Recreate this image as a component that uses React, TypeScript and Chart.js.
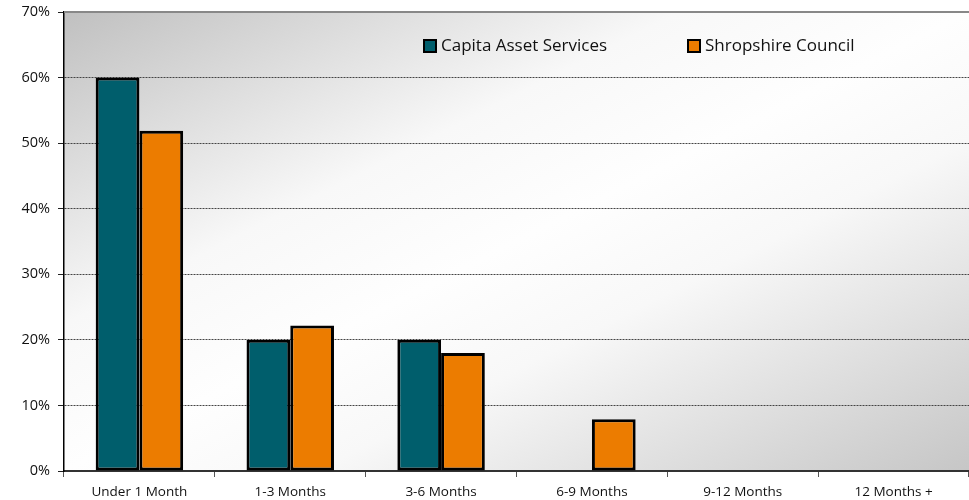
import { useEffect, useRef } from "react";
import { Chart, ChartConfiguration, registerables } from "chart.js";

Chart.register(...registerables);

const categories = ["Under 1 Month", "1-3 Months", "3-6 Months", "6-9 Months", "9-12 Months", "12 Months +"];
const capitaValues = [60, 20, 20, 0, 0, 0];
const shropshireValues = [51.9, 22.2, 18.0, 7.9, 0, 0];
const seriesNames = ["Capita Asset Services", "Shropshire Council"];
const seriesColors = ["#005e6c", "#ec7c00"];

const FONT = "'Open Sans', 'Noto Sans', sans-serif";

export default function App() {
  const chartRef = useRef<HTMLCanvasElement>(null);
  const chartInstance = useRef<Chart | null>(null);

  useEffect(() => {
    document.body.style.margin = "0";
    if (!chartRef.current) return;

    if (chartInstance.current) {
      chartInstance.current.destroy();
    }

    const config: ChartConfiguration = {
      type: "bar",
      data: {
        labels: categories,
        datasets: [
          {
            label: seriesNames[0],
            data: capitaValues,
            backgroundColor: seriesColors[0],
            borderColor: "#000",
            borderWidth: 3,
            borderSkipped: false,
          },
          {
            label: seriesNames[1],
            data: shropshireValues,
            backgroundColor: seriesColors[1],
            borderColor: "#000",
            borderWidth: 3,
            borderSkipped: false,
          },
        ],
      },
      options: {
        responsive: true,
        maintainAspectRatio: false,
        animation: false,
        layout: { padding: { top: 12, right: 0, left: 0, bottom: 0 } },
        datasets: {
          bar: { categoryPercentage: 0.58, barPercentage: 1 },
        },
        plugins: {
          legend: { display: false },
          tooltip: { enabled: false },
        },
        scales: {
          x: {
            afterFit: (scale: any) => {
              scale.height = 29;
              scale.paddingLeft = 0;
              scale.paddingRight = 0;
            },
            grid: {
              offset: true,
              drawOnChartArea: false,
              drawTicks: true,
              tickLength: 6,
              tickColor: "#555",
            },
            border: { color: "#333", width: 2 },
            ticks: {
              color: "#111",
              padding: 7,
              font: { family: FONT, size: 13.5 },
            },
          },
          y: {
            min: 0,
            max: 70,
            afterFit: (scale: any) => {
              scale.width = 64;
              scale.paddingTop = 0;
              scale.paddingBottom = 0;
            },
            ticks: {
              stepSize: 10,
              color: "#111",
              padding: 8,
              font: { family: FONT, size: 14.5 },
              callback: (v: any) => `${v}%`,
            },
            grid: {
              color: (ctx: any) => (ctx.tick && (ctx.tick.value === 0 || ctx.tick.value === 70) ? "rgba(0,0,0,0)" : "#444"),
              lineWidth: 1,
              tickLength: 6,
              tickColor: "#222",
            },
            border: { color: "#000", width: 1.5, dash: [2, 1] },
          },
        },
      },
      plugins: [
        {
          id: "plotBackground",
          beforeDraw: (chart) => {
            const { ctx, chartArea } = chart;
            const { left, top, right, bottom } = chartArea;
            ctx.save();
            ctx.translate(left, top);
            ctx.scale(right - left, bottom - top);
            const g = ctx.createLinearGradient(0, 0, 1, 1);
            g.addColorStop(0, "#c0c0c0");
            g.addColorStop(0.34, "#f8f8f8");
            g.addColorStop(0.5, "#fefefe");
            g.addColorStop(0.64, "#f8f8f8");
            g.addColorStop(1, "#c6c6c6");
            ctx.fillStyle = g;
            ctx.fillRect(0, 0, 1, 1);
            ctx.restore();
          },
        },
        {
          id: "topBorderAndLegend",
          afterDraw: (chart) => {
            const { ctx, chartArea } = chart;
            ctx.save();
            ctx.strokeStyle = "#888";
            ctx.lineWidth = 2;
            ctx.beginPath();
            ctx.moveTo(chartArea.left, chartArea.top);
            ctx.lineTo(chartArea.right, chartArea.top);
            ctx.stroke();

            const items = [
              { x: 424, name: seriesNames[0], color: seriesColors[0] },
              { x: 688, name: seriesNames[1], color: seriesColors[1] },
            ];
            ctx.font = `17px ${FONT}`;
            ctx.textBaseline = "middle";
            ctx.textAlign = "left";
            items.forEach((it) => {
              ctx.fillStyle = it.color;
              ctx.fillRect(it.x, 40, 12, 12);
              ctx.strokeStyle = "#000";
              ctx.lineWidth = 2;
              ctx.strokeRect(it.x, 40, 12, 12);
              ctx.fillStyle = "#111";
              ctx.fillText(it.name, it.x + 17, 46);
            });
            ctx.restore();
          },
        },
      ],
    };

    chartInstance.current = new Chart(chartRef.current, config);

    return () => {
      if (chartInstance.current) {
        chartInstance.current.destroy();
        chartInstance.current = null;
      }
    };
  }, []);

  return (
    <div style={{ position: "relative", width: 969, height: 500 }}>
      <canvas ref={chartRef} />
    </div>
  );
}
